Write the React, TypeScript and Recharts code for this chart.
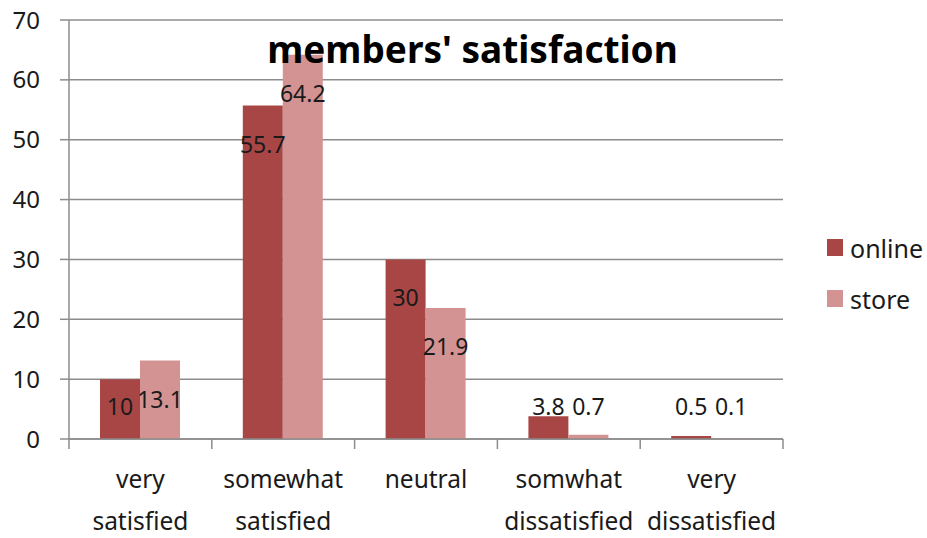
import React from 'react'
import { BarChart, Bar, XAxis, YAxis, CartesianGrid, LabelList } from 'recharts'

const categories = [
  ['very', 'satisfied'],
  ['somewhat', 'satisfied'],
  ['neutral'],
  ['somwhat', 'dissatisfied'],
  ['very', 'dissatisfied'],
]
const online = [10, 55.7, 30, 3.8, 0.5]
const store = [13.1, 64.2, 21.9, 0.7, 0.1]
const yTicks = [0, 10, 20, 30, 40, 50, 60, 70]

const data = categories.map((lines, i) => ({
  key: lines.join(' '),
  lines,
  online: online[i],
  store: store[i],
}))

const WIDTH = 927
const HEIGHT = 538
const PLOT_LEFT = 69
const PLOT_RIGHT = 783
const BAND = (PLOT_RIGHT - PLOT_LEFT) / categories.length
const FONT = '"Noto Sans", "Open Sans", sans-serif'
const GRID = '#8c8c8c'
const ONLINE = '#a84646'
const STORE = '#d49393'

function CategoryTick(props: any) {
  const { x, y, payload, index } = props
  const lines: string[] = data[index]?.lines ?? [String(payload.value)]
  return (
    <g>
      <line x1={x - BAND / 2} x2={x - BAND / 2} y1={y} y2={y + 10} stroke={GRID} strokeWidth={1.5} />
      {index === categories.length - 1 && (
        <line x1={x + BAND / 2} x2={x + BAND / 2} y1={y} y2={y + 10} stroke={GRID} strokeWidth={1.5} />
      )}
      {lines.map((t, i) => (
        <text
          key={i}
          x={x}
          y={y + 39 + i * 42}
          textAnchor="middle"
          dominantBaseline="central"
          fontSize={24.5}
          fontFamily={FONT}
          fill="#1a1a1a"
        >
          {t}
        </text>
      ))}
    </g>
  )
}

// data labels sit inside the top of tall bars, and on a common line above short ones
function ValueLabel(props: any) {
  const { x, y, width, value } = props
  const cy = Math.min(y + 38, 406)
  return (
    <text
      x={x + width / 2}
      y={cy}
      textAnchor="middle"
      dominantBaseline="central"
      fontSize={23}
      fontFamily={FONT}
      fill="#1a1a1a"
    >
      {value}
    </text>
  )
}

const legendItems = [
  { name: 'online', color: ONLINE },
  { name: 'store', color: STORE },
]

export default function App() {
  return (
    <div style={{ position: 'absolute', left: 0, top: 0, width: WIDTH, height: HEIGHT, background: '#fff' }}>
      <BarChart
        width={WIDTH}
        height={HEIGHT}
        data={data}
        margin={{ top: 20, right: WIDTH - PLOT_RIGHT, bottom: 0, left: 0 }}
        barCategoryGap={31}
        barGap={0}
      >
        <CartesianGrid vertical={false} stroke={GRID} strokeWidth={1.5} />
        <XAxis
          dataKey="key"
          height={99}
          tickSize={0}
          tickMargin={0}
          tickLine={false}
          axisLine={{ stroke: GRID, strokeWidth: 1.5 }}
          tick={<CategoryTick />}
          interval={0}
        />
        <YAxis
          width={PLOT_LEFT}
          domain={[0, 70]}
          ticks={yTicks}
          tickSize={9}
          tickMargin={20}
          tickLine={{ stroke: GRID, strokeWidth: 1.5 }}
          axisLine={{ stroke: GRID, strokeWidth: 1.5 }}
          tick={{ fill: '#1a1a1a', fontSize: 24, fontFamily: FONT }}
        />
        <Bar dataKey="online" fill={ONLINE} isAnimationActive={false}>
          <LabelList dataKey="online" content={<ValueLabel />} />
        </Bar>
        <Bar dataKey="store" fill={STORE} isAnimationActive={false}>
          <LabelList dataKey="store" content={<ValueLabel />} />
        </Bar>
      </BarChart>
      <div
        style={{
          position: 'absolute',
          left: 827,
          top: 222,
          fontFamily: FONT,
          fontSize: 25,
          color: '#1a1a1a',
        }}
      >
        {legendItems.map((it) => (
          <div key={it.name} style={{ display: 'flex', alignItems: 'center', height: 51 }}>
            <span style={{ width: 16, height: 17, background: it.color, marginRight: 7 }} />
            <span>{it.name}</span>
          </div>
        ))}
      </div>
      <div
        style={{
          position: 'absolute',
          left: 0,
          top: 24,
          width: 945,
          textAlign: 'center',
          fontFamily: FONT,
          fontWeight: 700,
          fontSize: 37,
          lineHeight: '50px',
          color: '#000',
        }}
      >
        members' satisfaction
      </div>
    </div>
  )
}
